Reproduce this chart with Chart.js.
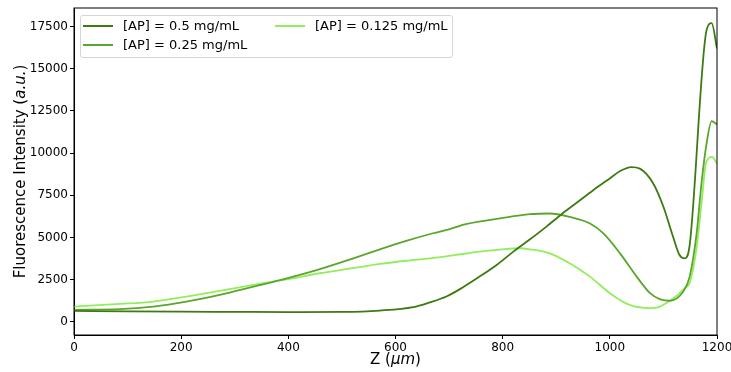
<!DOCTYPE html>
<html>
<head>
<meta charset="utf-8">
<script src="https://cdn.jsdelivr.net/npm/chart.js@4/dist/chart.umd.min.js"></script>
<style>
  html, body { margin: 0; padding: 0; background: #fff; }
  #wrap { position: relative; width: 731px; height: 372px; overflow: hidden; }
  #legend {
    position: absolute; left: 80px; top: 15px; width: 371px; height: 41px;
    border: 1px solid #d6d6d6; border-radius: 3px; background: rgba(255,255,255,0.8);
    font-family: "DejaVu Sans", sans-serif; font-size: 13px; color: #000;
  }
  .item { position: absolute; display: flex; align-items: center; white-space: nowrap; }
  .swatch { display: inline-block; width: 30px; height: 2px; margin-right: 10px; }
</style>
</head>
<body>
<div id="wrap">
  <canvas id="c" width="731" height="372"></canvas>
  <div id="legend"></div>
</div>
<script>
// ---- data ----
const seriesLabels = ["[AP] = 0.5 mg/mL", "[AP] = 0.25 mg/mL", "[AP] = 0.125 mg/mL"];
const seriesColors = ["#3d7a12", "#5aa62c", "#92ee5c"];

const zHigh = [0, 100, 200, 300, 400, 500, 571, 633, 664, 695, 726, 757, 790, 820, 851, 880, 910, 940, 969, 1000, 1020, 1040, 1056, 1081, 1100, 1118, 1130, 1140, 1149, 1180, 1190, 1200];
const valHigh = [650, 620, 600, 590, 580, 590, 670, 870, 1150, 1500, 2050, 2680, 3400, 4160, 4890, 5600, 6380, 7100, 7800, 8500, 8950, 9170, 9080, 8200, 6820, 5040, 3960, 3760, 4550, 17200, 17700, 16200];

const zMid = [0, 86, 148, 210, 272, 335, 397, 459, 520, 571, 620, 670, 701, 733, 795, 851, 888, 925, 963, 988, 1019, 1050, 1075, 1093, 1112, 1137, 1149, 1162, 1171, 1180, 1190, 1200];
const valMid = [710, 750, 905, 1200, 1600, 2090, 2580, 3130, 3750, 4300, 4800, 5250, 5500, 5800, 6130, 6380, 6420, 6220, 5830, 5240, 4060, 2680, 1700, 1350, 1250, 1800, 2680, 5240, 8200, 10460, 11900, 11700];

const zLow = [0, 86, 148, 210, 272, 335, 397, 459, 520, 571, 620, 664, 710, 757, 795, 830, 851, 888, 925, 963, 1000, 1037, 1075, 1090, 1105, 1125, 1140, 1149, 1162, 1171, 1180, 1191, 1200];
const valLow = [905, 1060, 1200, 1500, 1830, 2190, 2520, 2880, 3180, 3430, 3620, 3760, 3950, 4160, 4280, 4360, 4300, 4060, 3470, 2680, 1700, 1000, 810, 850, 1100, 1550, 2000, 2300, 4400, 7000, 9480, 9780, 9380];

const xTicks = [0, 200, 400, 600, 800, 1000, 1200];
const yTicks = [0, 2500, 5000, 7500, 10000, 12500, 15000, 17500];

const zSets = [zHigh, zMid, zLow];
const vSets = [valHigh, valMid, valLow];

const datasets = seriesLabels.map((lab, i) => ({
  label: lab,
  data: zSets[i].map((z, k) => ({ x: z, y: vSets[i][k] })),
  borderColor: seriesColors[i],
  backgroundColor: seriesColors[i],
  borderWidth: 1.8,
  pointRadius: 0,
  cubicInterpolationMode: 'monotone',
  fill: false
}));

// HTML legend (matplotlib style, 2 columns filled column-wise)
const legendPos = [[0, 0], [0, 1], [1, 0]];
const leg = document.getElementById('legend');
seriesLabels.forEach((lab, i) => {
  const d = document.createElement('div');
  d.className = 'item';
  d.style.left = (legendPos[i][0] === 0 ? 2 : 194) + 'px';
  d.style.top = (legendPos[i][1] === 0 ? 2 : 21) + 'px';
  const s = document.createElement('span');
  s.className = 'swatch';
  s.style.background = seriesColors[i];
  const t = document.createElement('span');
  t.textContent = lab;
  d.appendChild(s); d.appendChild(t);
  leg.appendChild(d);
});

function drawRich(ctx, segs, size) {
  let total = 0;
  segs.forEach(s => {
    ctx.font = (s.i ? 'italic ' : '') + size + 'px "DejaVu Sans"';
    s.w = ctx.measureText(s.t).width; total += s.w;
  });
  let x = -total / 2;
  segs.forEach(s => {
    ctx.font = (s.i ? 'italic ' : '') + size + 'px "DejaVu Sans"';
    ctx.fillText(s.t, x, 0); x += s.w;
  });
}

const framePlugin = {
  id: 'frame',
  afterDraw(chart) {
    const { ctx, chartArea: a } = chart;
    ctx.save();
    ctx.strokeStyle = '#000';
    ctx.lineWidth = 1;
    ctx.strokeRect(a.left, a.top, a.right - a.left, a.bottom - a.top);
    ctx.fillStyle = '#000';
    ctx.textBaseline = 'middle';
    ctx.textAlign = 'left';
    ctx.save();
    ctx.translate((a.left + a.right) / 2, 360);
    drawRich(ctx, [{ t: 'Z (' }, { t: 'μm', i: true }, { t: ')' }], 15);
    ctx.restore();
    ctx.save();
    ctx.translate(21, (a.top + a.bottom) / 2);
    ctx.rotate(-Math.PI / 2);
    drawRich(ctx, [{ t: 'Fluorescence Intensity (' }, { t: 'a.u.', i: true }, { t: ')' }], 15);
    ctx.restore();
    ctx.restore();
  }
};

new Chart(document.getElementById('c'), {
  type: 'line',
  data: { datasets },
  options: {
    responsive: false,
    animation: false,
    layout: { padding: { top: 8, right: 14, left: 0, bottom: 0 } },
    plugins: { legend: { display: false }, tooltip: { enabled: false } },
    scales: {
      x: {
        type: 'linear', min: 0, max: 1200,
        afterBuildTicks: s => { s.ticks = xTicks.map(v => ({ value: v })); },
        afterFit: s => { s.height = 37; s.paddingRight = 0; s.paddingLeft = 0; },
        grid: { drawOnChartArea: false, drawTicks: true, tickLength: 4, color: '#000' },
        border: { display: true, color: '#000', width: 1 },
        ticks: { color: '#000', font: { family: 'DejaVu Sans', size: 12 }, padding: 2, maxRotation: 0, autoSkip: false,
                 callback: v => String(v) }
      },
      y: {
        type: 'linear', min: -780, max: 18600,
        afterBuildTicks: s => { s.ticks = yTicks.map(v => ({ value: v })); },
        afterFit: s => { s.width = 74; s.paddingTop = 0; s.paddingBottom = 0; },
        grid: { drawOnChartArea: false, drawTicks: true, tickLength: 4, color: '#000' },
        border: { display: true, color: '#000', width: 1 },
        ticks: { color: '#000', font: { family: 'DejaVu Sans', size: 12 }, padding: 2, autoSkip: false,
                 callback: v => String(v) }
      }
    }
  },
  plugins: [framePlugin]
});
</script>
</body>
</html>
